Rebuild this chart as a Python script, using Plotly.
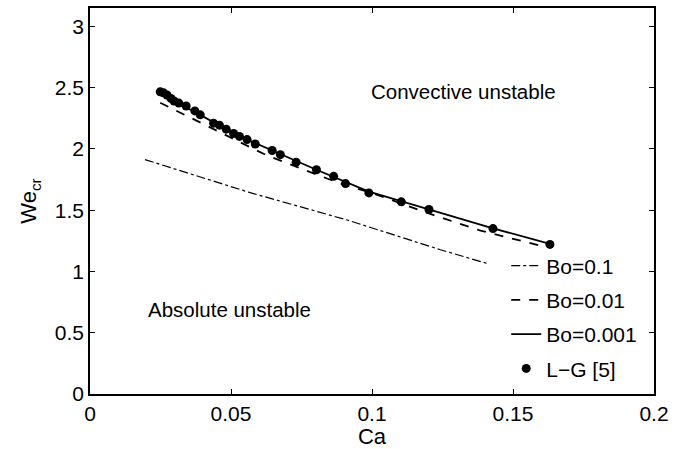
import plotly.graph_objects as go

# L-G [5] data points
lg_ca = [0.0249, 0.0260, 0.0273, 0.0287, 0.0298, 0.0315, 0.0341, 0.0372, 0.0391,
         0.0438, 0.0459, 0.0483, 0.0509, 0.0530, 0.0557, 0.0586, 0.0646, 0.0675,
         0.0731, 0.0803, 0.0864, 0.0906, 0.0989, 0.1104, 0.1202, 0.1429, 0.1631]
lg_we = [2.466, 2.458, 2.440, 2.412, 2.391, 2.374, 2.350, 2.310, 2.278,
         2.210, 2.194, 2.161, 2.126, 2.102, 2.076, 2.040, 1.987, 1.953,
         1.892, 1.830, 1.776, 1.717, 1.641, 1.568, 1.506, 1.350, 1.221]

# Bo = 0.001 (solid)
bo001_ca = [0.0249, 0.0298, 0.0391, 0.0509, 0.0646, 0.0803, 0.0989, 0.1202, 0.1429, 0.1631]
bo001_we = [2.466, 2.391, 2.278, 2.126, 1.987, 1.830, 1.652, 1.506, 1.352, 1.225]

# Bo = 0.01 (dashed)
bo01_ca = [0.0249, 0.0390, 0.0628, 0.0888, 0.1006, 0.1184, 0.1385, 0.1600]
bo01_we = [2.377, 2.215, 1.946, 1.717, 1.636, 1.487, 1.333, 1.209]

# Bo = 0.1 (dash-dot)
bo1_ca = [0.0195, 0.0568, 0.0912, 0.1243, 0.1413]
bo1_we = [1.913, 1.643, 1.420, 1.177, 1.062]

x_ticks = [0, 0.05, 0.1, 0.15, 0.2]
x_tick_labels = ["0", "0.05", "0.1", "0.15", "0.2"]
y_ticks = [0, 0.5, 1, 1.5, 2, 2.5, 3]
y_tick_labels = ["0", "0.5", "1", "1.5", "2", "2.5", "3"]

FONT = "Liberation Sans, Arial, Helvetica, sans-serif"

fig = go.Figure()
fig.add_trace(go.Scatter(x=bo1_ca, y=bo1_we, mode="lines", name="Bo=0.1", legendgroup="a",
                         line=dict(color="black", width=1.2, dash="dashdot")))
fig.add_trace(go.Scatter(x=bo01_ca, y=bo01_we, mode="lines", name="Bo=0.01", legendgroup="b",
                         line=dict(color="black", width=1.8, dash="dash")))
fig.add_trace(go.Scatter(x=bo001_ca, y=bo001_we, mode="lines", name="Bo=0.001", legendgroup="c",
                         line=dict(color="black", width=1.8)))
fig.add_trace(go.Scatter(x=lg_ca, y=lg_we, mode="markers", name="L\u2212G [5]", legendgroup="d",
                         marker=dict(color="black", size=9)))

fig.add_annotation(x=0.1326, y=2.472, text="Convective unstable", showarrow=False,
                   xref="x", yref="y", font=dict(size=20.5, color="black", family=FONT))
fig.add_annotation(x=0.0496, y=0.692, text="Absolute unstable", showarrow=False,
                   xref="x", yref="y", font=dict(size=20.5, color="black", family=FONT))

axis_common = dict(showgrid=False, zeroline=False, showline=True, linecolor="black",
                   linewidth=1.5, mirror="ticks", ticks="inside", ticklen=5,
                   tickcolor="black", tickwidth=1,
                   tickfont=dict(size=21, color="black", family=FONT))

fig.update_xaxes(range=[0, 0.2], tickvals=x_ticks, ticktext=x_tick_labels,
                 title=dict(text="Ca", font=dict(size=22, color="black", family=FONT), standoff=3),
                 **axis_common)
fig.update_yaxes(range=[0, 3.15], tickvals=y_ticks, ticktext=y_tick_labels,
                 title=dict(text="We<sub>cr</sub>", font=dict(size=22, color="black", family=FONT), standoff=12),
                 **axis_common)

fig.update_layout(
    width=687, height=449,
    margin=dict(l=90, r=33, t=6, b=54),
    paper_bgcolor="white", plot_bgcolor="white",
    font=dict(family=FONT, color="black"),
    legend=dict(x=0.738, y=0.385, xanchor="left", yanchor="top",
                bgcolor="rgba(0,0,0,0)", font=dict(size=21, family=FONT, color="black"),
                tracegroupgap=4, itemwidth=30),
)

fig.write_html("out.html")
